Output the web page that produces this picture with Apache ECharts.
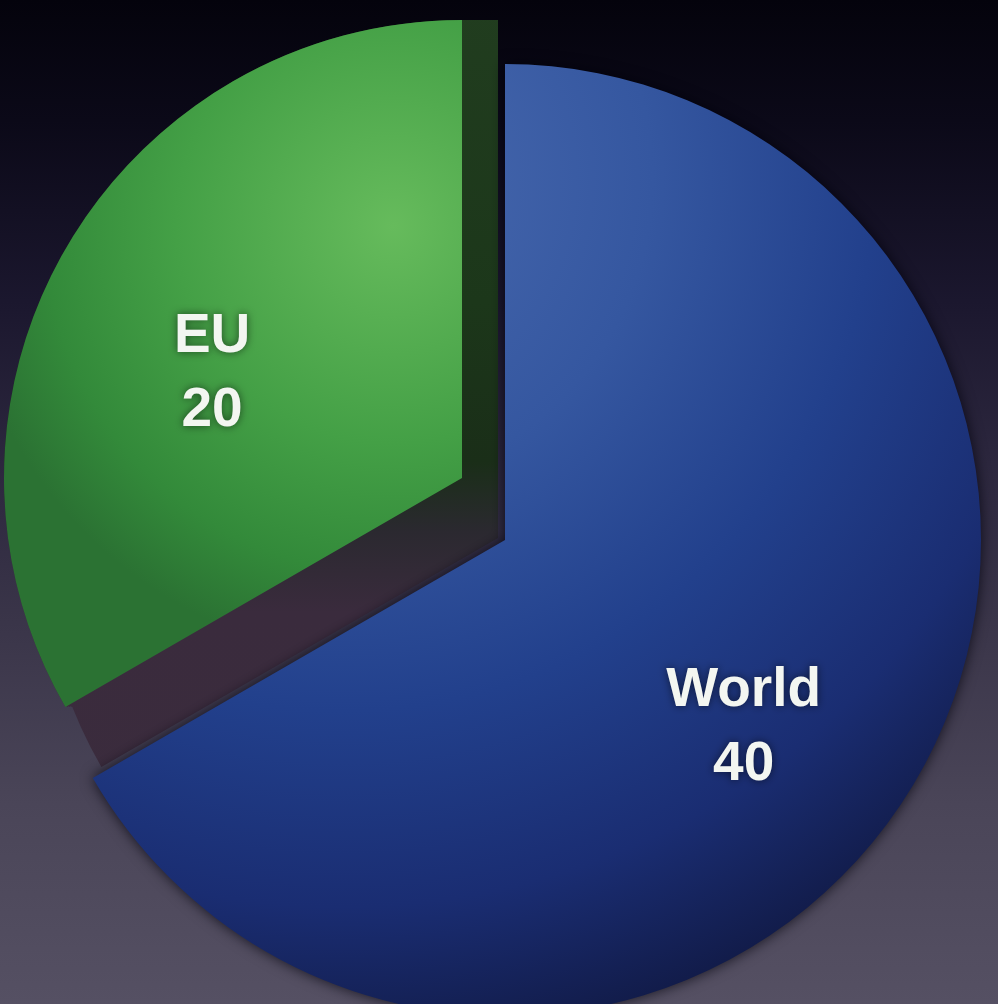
<!DOCTYPE html>
<html>
<head>
<meta charset="utf-8">
<title>EU / World</title>
<style>
  html, body { margin: 0; padding: 0; }
  #chart {
    width: 998px;
    height: 1004px;
    background: linear-gradient(to bottom, #04030c 0%, #0b0918 12%, #1b172e 30%, #2b263d 45%, #3a3549 62%, #4a4558 80%, #555063 100%);
  }
</style>
<script src="https://cdn.jsdelivr.net/npm/echarts/dist/echarts.min.js"></script>
</head>
<body>
<div id="chart"></div>
<script>
// Data
const categories = ['World', 'EU'];
const values = [40, 20];

const chart = echarts.init(document.getElementById('chart'), null, { renderer: 'canvas' });

// Layout of the two faces and the depth of the pulled-out slice
const WORLD_CENTER = [505, 540];
const WORLD_R = 476;
const EU_CENTER = [462, 478];
const EU_R = 458;
const DEPTH_X = 36;
const DEPTH_Y = 60;
const HIDDEN = 'rgba(0,0,0,0)';

const labelStyle = {
  show: true,
  position: 'inside',
  formatter: '{b}\n{c}',
  color: '#f3f6f1',
  fontSize: 55,
  fontWeight: 'bold',
  fontFamily: '"Liberation Sans", Arial, Helvetica, sans-serif',
  lineHeight: 74,
  textShadowColor: 'rgba(0,0,0,0.55)',
  textShadowBlur: 8
};

// One pie over both categories in which only one slice is painted
function sliceData(visibleName, itemStyle, showLabel) {
  return categories.map((name, i) => ({
    name: name,
    value: values[i],
    itemStyle: name === visibleName ? itemStyle : { color: HIDDEN, borderWidth: 0, shadowBlur: 0 },
    label: { show: !!showLabel && name === visibleName }
  }));
}

function pie(center, radius, extra) {
  return Object.assign({
    type: 'pie',
    center: center,
    radius: radius,
    startAngle: 90,
    clockwise: true,
    avoidLabelOverlap: false,
    labelLine: { show: false },
    emphasis: { disabled: true },
    silent: true,
    animation: false
  }, extra);
}

// Side walls of the EU slice: green on the upright edge, dusky purple below
const wallColor = new echarts.graphic.LinearGradient(0, 0, 0, 1004, [
  { offset: 0.0, color: '#213d1f' },
  { offset: 0.3, color: '#1c371a' },
  { offset: 0.46, color: '#1a2e18' },
  { offset: 0.53, color: '#2b2930' },
  { offset: 0.61, color: '#3a2b3d' },
  { offset: 1.0, color: '#3b2c3c' }
], true);

const series = [];
const wallOffsets = [];
for (let k = 0; k <= 18; k++) wallOffsets.push([DEPTH_X * k / 18, 0]);
for (let k = 1; k <= 30; k++) wallOffsets.push([DEPTH_X, DEPTH_Y * k / 30]);
wallOffsets.forEach(function (off) {
  series.push(pie(
    [EU_CENTER[0] + off[0], EU_CENTER[1] + off[1]],
    EU_R,
    { data: sliceData('EU', { color: wallColor, borderWidth: 0 }, false), label: { show: false } }
  ));
});

// World slice
series.push(pie(WORLD_CENTER, WORLD_R, {
  data: sliceData('World', {
    color: new echarts.graphic.RadialGradient(0.28, 0.12, 1.0, [
      { offset: 0.0, color: '#4a6bb0' },
      { offset: 0.35, color: '#3557a0' },
      { offset: 0.6, color: '#22408c' },
      { offset: 0.82, color: '#1a2d72' },
      { offset: 1.0, color: '#111a46' }
    ]),
    borderWidth: 0,
    shadowBlur: 14,
    shadowColor: 'rgba(0,0,10,0.75)'
  }, true),
  label: labelStyle,
  labelLayout: { dx: 30, dy: 67 }
}));

// EU slice, pulled out towards the upper left
series.push(pie(EU_CENTER, EU_R, {
  data: sliceData('EU', {
    color: new echarts.graphic.RadialGradient(0.85, 0.3, 0.95, [
      { offset: 0.0, color: '#66bb5c' },
      { offset: 0.5, color: '#44a046' },
      { offset: 0.8, color: '#338a3a' },
      { offset: 1.0, color: '#2b7233' }
    ]),
    borderWidth: 0
  }, true),
  label: labelStyle,
  labelLayout: { dx: -49, dy: 12 }
}));

chart.setOption({
  backgroundColor: 'transparent',
  animation: false,
  series: series
});
</script>
</body>
</html>
